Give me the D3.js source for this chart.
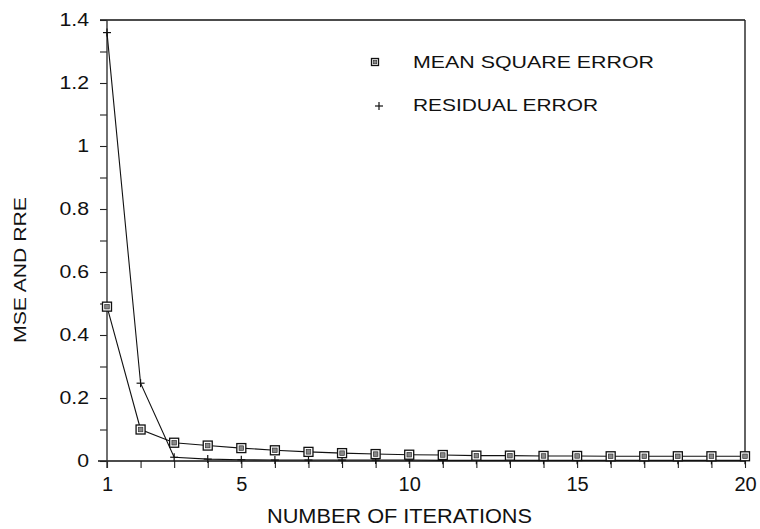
<!DOCTYPE html>
<html><head><meta charset="utf-8">
<script src="https://cdn.jsdelivr.net/npm/d3@7/dist/d3.min.js"></script>
<style>body{margin:0;background:#fff}svg{display:block}text{font-family:"Liberation Sans",Arial,sans-serif;fill:#111}</style>
</head><body>
<script>
const iterations = d3.range(1, 21);
const mseValues = [0.49, 0.10, 0.058, 0.049, 0.041, 0.034, 0.029, 0.025, 0.022, 0.020, 0.019, 0.017, 0.017, 0.016, 0.016, 0.015, 0.015, 0.015, 0.015, 0.015];
const residualValues = [1.36, 0.247, 0.012, 0.006, 0.004, 0.003, 0.003, 0.003, 0.003, 0.003, 0.002, 0.002, 0.002, 0.002, 0.002, 0.002, 0.002, 0.002, 0.002, 0.002];
const xTickLabels = [1, 5, 10, 15, 20];
const yTickLabels = [0, 0.2, 0.4, 0.6, 0.8, 1, 1.2, 1.4];
const seriesNames = ["MEAN SQUARE ERROR", "RESIDUAL ERROR"];

const W = 760, H = 529;
const svg = d3.select("body").append("svg").attr("width", W).attr("height", H);
const x = d3.scaleLinear().domain([1, 20]).range([107, 745]);
const y = d3.scaleLinear().domain([0, 1.4]).range([461, 20]);

// frame
svg.append("line").attr("x1", 100).attr("x2", 745).attr("y1", y(1.4)).attr("y2", y(1.4)).attr("stroke", "#111").attr("stroke-width", 1.6);
svg.append("line").attr("x1", 745).attr("x2", 745).attr("y1", y(1.4)).attr("y2", y(0)).attr("stroke", "#222").attr("stroke-width", 1.4);

// x axis
const xAxis = d3.axisBottom(x).tickValues(iterations).tickSize(7).tickPadding(9)
  .tickFormat(d => xTickLabels.includes(d) ? d : "");
const gx = svg.append("g").attr("transform", `translate(0,${y(0)})`).call(xAxis);
gx.select(".domain").remove();
gx.selectAll("line").attr("stroke", "#222").attr("stroke-width", 1.1);
gx.selectAll("text").style("font-size", "20px").attr("fill", "#111");
svg.append("line").attr("x1", 98).attr("x2", 745).attr("y1", y(0)).attr("y2", y(0)).attr("stroke", "#111").attr("stroke-width", 1.6);

// y axis
const yScaleX = 1.15;
const yAxis = d3.axisLeft(y).tickValues(d3.range(0, 15).map(i => i / 10)).tickSize(7).tickPadding(11)
  .tickFormat(d => yTickLabels.some(v => Math.abs(v - d) < 1e-9) ? d3.format("~g")(d) : "");
const gy = svg.append("g").attr("transform", `translate(${x(1)},0)`).call(yAxis);
gy.select(".domain").remove();
gy.selectAll("line").attr("stroke", "#222").attr("stroke-width", 1.1);
gy.selectAll("text").style("font-size", "18.5px").attr("fill", "#111")
  .attr("x", -18 / yScaleX).attr("transform", `scale(${yScaleX},1)`);
svg.append("line").attr("x1", x(1)).attr("x2", x(1)).attr("y1", y(1.4)).attr("y2", y(0) + 7).attr("stroke", "#333").attr("stroke-width", 1.4);

// axis titles
svg.append("text").attr("x", 399.5).attr("y", 523).attr("text-anchor", "middle").style("font-size", "20px")
  .attr("textLength", 265).attr("lengthAdjust", "spacingAndGlyphs").text("NUMBER OF ITERATIONS");
svg.append("text").attr("transform", "translate(26,270) rotate(-90)").attr("text-anchor", "middle").style("font-size", "17px")
  .attr("textLength", 146).attr("lengthAdjust", "spacingAndGlyphs").text("MSE AND RRE");

// lines
const line = d3.line().x((d, i) => x(iterations[i])).y(d => y(d));
svg.append("path").datum(residualValues).attr("d", line).attr("fill", "none").attr("stroke", "#111").attr("stroke-width", 1.1);
svg.append("path").datum(mseValues).attr("d", line).attr("fill", "none").attr("stroke", "#111").attr("stroke-width", 1.1);

// markers
function squareMarker(g, cx, cy, s) {
  g.append("rect").attr("x", cx - s / 2).attr("y", cy - s / 2).attr("width", s).attr("height", s).attr("fill", "#fff").attr("stroke", "#111").attr("stroke-width", 1.3);
  g.append("rect").attr("x", cx - s / 4).attr("y", cy - s / 4).attr("width", s / 2).attr("height", s / 2).attr("fill", "#888").attr("stroke", "#333").attr("stroke-width", 0.7);
}
function plusMarker(g, cx, cy) {
  g.append("line").attr("x1", cx - 4).attr("x2", cx + 4).attr("y1", cy).attr("y2", cy).attr("stroke", "#111").attr("stroke-width", 1.2);
  g.append("line").attr("x1", cx).attr("x2", cx).attr("y1", cy - 4).attr("y2", cy + 4).attr("stroke", "#111").attr("stroke-width", 1.2);
}
const gm = svg.append("g");
residualValues.forEach((v, i) => plusMarker(gm, x(iterations[i]), y(v)));
mseValues.forEach((v, i) => squareMarker(gm, x(iterations[i]), y(v), 9));

// legend
const lg = svg.append("g");
squareMarker(lg, 375, 62, 7);
lg.append("text").attr("x", 413).attr("y", 68).style("font-size", "17px")
  .attr("textLength", 241).attr("lengthAdjust", "spacingAndGlyphs").text(seriesNames[0]);
plusMarker(lg, 379, 106);
lg.append("text").attr("x", 413).attr("y", 111).style("font-size", "17px")
  .attr("textLength", 185).attr("lengthAdjust", "spacingAndGlyphs").text(seriesNames[1]);
</script>
</body></html>
